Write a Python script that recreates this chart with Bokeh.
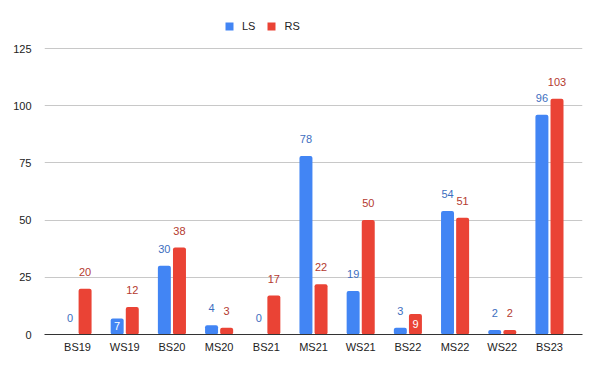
from bokeh.plotting import figure
from bokeh.models import ColumnDataSource, Range1d, FixedTicker, Legend, LegendItem, LabelSet
from bokeh.core.properties import value
from bokeh.embed import file_html
from bokeh.resources import INLINE

categories = ["BS19", "WS19", "BS20", "MS20", "BS21", "MS21", "WS21", "BS22", "MS22", "WS22", "BS23"]
ls_values = [0, 7, 30, 4, 0, 78, 19, 3, 54, 2, 96]
rs_values = [20, 12, 38, 3, 17, 22, 50, 9, 51, 2, 103]
# label placement as seen in the reference (True = inside bar, white)
ls_inside = [False, True, False, False, False, False, False, False, False, False, False]
rs_inside = [False, False, False, False, False, False, False, True, False, False, False]
y_ticks = [0, 25, 50, 75, 100, 125]

BLUE = "#4285F4"
RED = "#EA4335"
BLUE_TXT = "#3d6ec0"
RED_TXT = "#b43a30"
FONT = "Liberation Sans"
FS = "11px"

n = len(categories)
idx = list(range(n))
off = 0.16
bw = 0.275

# frame spans from screen y=10 to y=334; 125 sits at y=48
y_top = 125 * (334 - 10) / (334 - 48)

p = figure(width=600, height=371, output_backend="svg", toolbar_location=None,
           x_range=Range1d(-0.7, n - 1 + 0.7), y_range=Range1d(0, y_top),
           min_border_left=44, min_border_right=18, min_border_top=10, min_border_bottom=37)
p.outline_line_color = None
p.background_fill_color = "white"
p.border_fill_color = "white"

src = ColumnDataSource(dict(
    x=idx, ls=ls_values, rs=rs_values,
    xl=[i - off for i in idx], xr=[i + off for i in idx],
))
r_ls = p.vbar(x="xl", top="ls", width=bw, source=src, fill_color=BLUE, line_color=None, border_radius=2)
r_rs = p.vbar(x="xr", top="rs", width=bw, source=src, fill_color=RED, line_color=None, border_radius=2)

def label_sources(vals, inside, shift):
    out_x, out_y, out_t, in_x, in_y, in_t = [], [], [], [], [], []
    for i, (v, ins) in enumerate(zip(vals, inside)):
        if ins:
            in_x.append(i + shift); in_y.append(v / 2); in_t.append(str(v))
        else:
            out_x.append(i + shift); out_y.append(v); out_t.append(str(v))
    return (ColumnDataSource(dict(x=out_x, y=out_y, t=out_t)),
            ColumnDataSource(dict(x=in_x, y=in_y, t=in_t)))

for vals, inside, shift, col in [(ls_values, ls_inside, -off, BLUE_TXT), (rs_values, rs_inside, off, RED_TXT)]:
    so, si = label_sources(vals, inside, shift)
    p.add_layout(LabelSet(x="x", y="y", text="t", source=so, text_align="center",
                          text_baseline="alphabetic", y_offset=13, text_font=value(FONT),
                          text_font_size=FS, text_color=col))
    p.add_layout(LabelSet(x="x", y="y", text="t", source=si, text_align="center",
                          text_baseline="middle", text_font=value(FONT),
                          text_font_size=FS, text_color="white"))

# axes
p.xaxis.ticker = FixedTicker(ticks=idx)
p.xaxis.major_label_overrides = {i: c for i, c in enumerate(categories)}
p.xaxis.major_tick_line_color = None
p.xaxis.major_tick_out = 0
p.xaxis.major_tick_in = 0
p.xaxis.minor_tick_line_color = None
p.xaxis.axis_line_color = "#333333"
p.xaxis.axis_line_width = 1
p.xaxis.major_label_text_font = FONT
p.xaxis.major_label_text_font_size = FS
p.xaxis.major_label_text_color = "#222222"
p.xaxis.major_label_standoff = 6

p.yaxis.ticker = FixedTicker(ticks=y_ticks)
p.yaxis.axis_line_color = None
p.yaxis.major_tick_line_color = None
p.yaxis.major_tick_out = 0
p.yaxis.major_tick_in = 0
p.yaxis.minor_tick_line_color = None
p.yaxis.major_label_text_font = FONT
p.yaxis.major_label_text_font_size = FS
p.yaxis.major_label_text_color = "#222222"
p.yaxis.major_label_standoff = 13

p.xgrid.grid_line_color = None
p.ygrid.grid_line_color = "#c8c8c8"
p.ygrid.grid_line_width = 1

legend = Legend(items=[LegendItem(label="LS", renderers=[r_ls]), LegendItem(label="RS", renderers=[r_rs])],
                orientation="horizontal", location=(180, 302),
                label_text_font=FONT, label_text_font_size=FS, label_text_color="#222222",
                glyph_width=10, glyph_height=10, label_standoff=8, spacing=11, label_width=0,
                border_line_color=None, background_fill_alpha=0, padding=0, margin=0)
p.add_layout(legend, "center")

open("out.html", "w").write(file_html(p, INLINE))
